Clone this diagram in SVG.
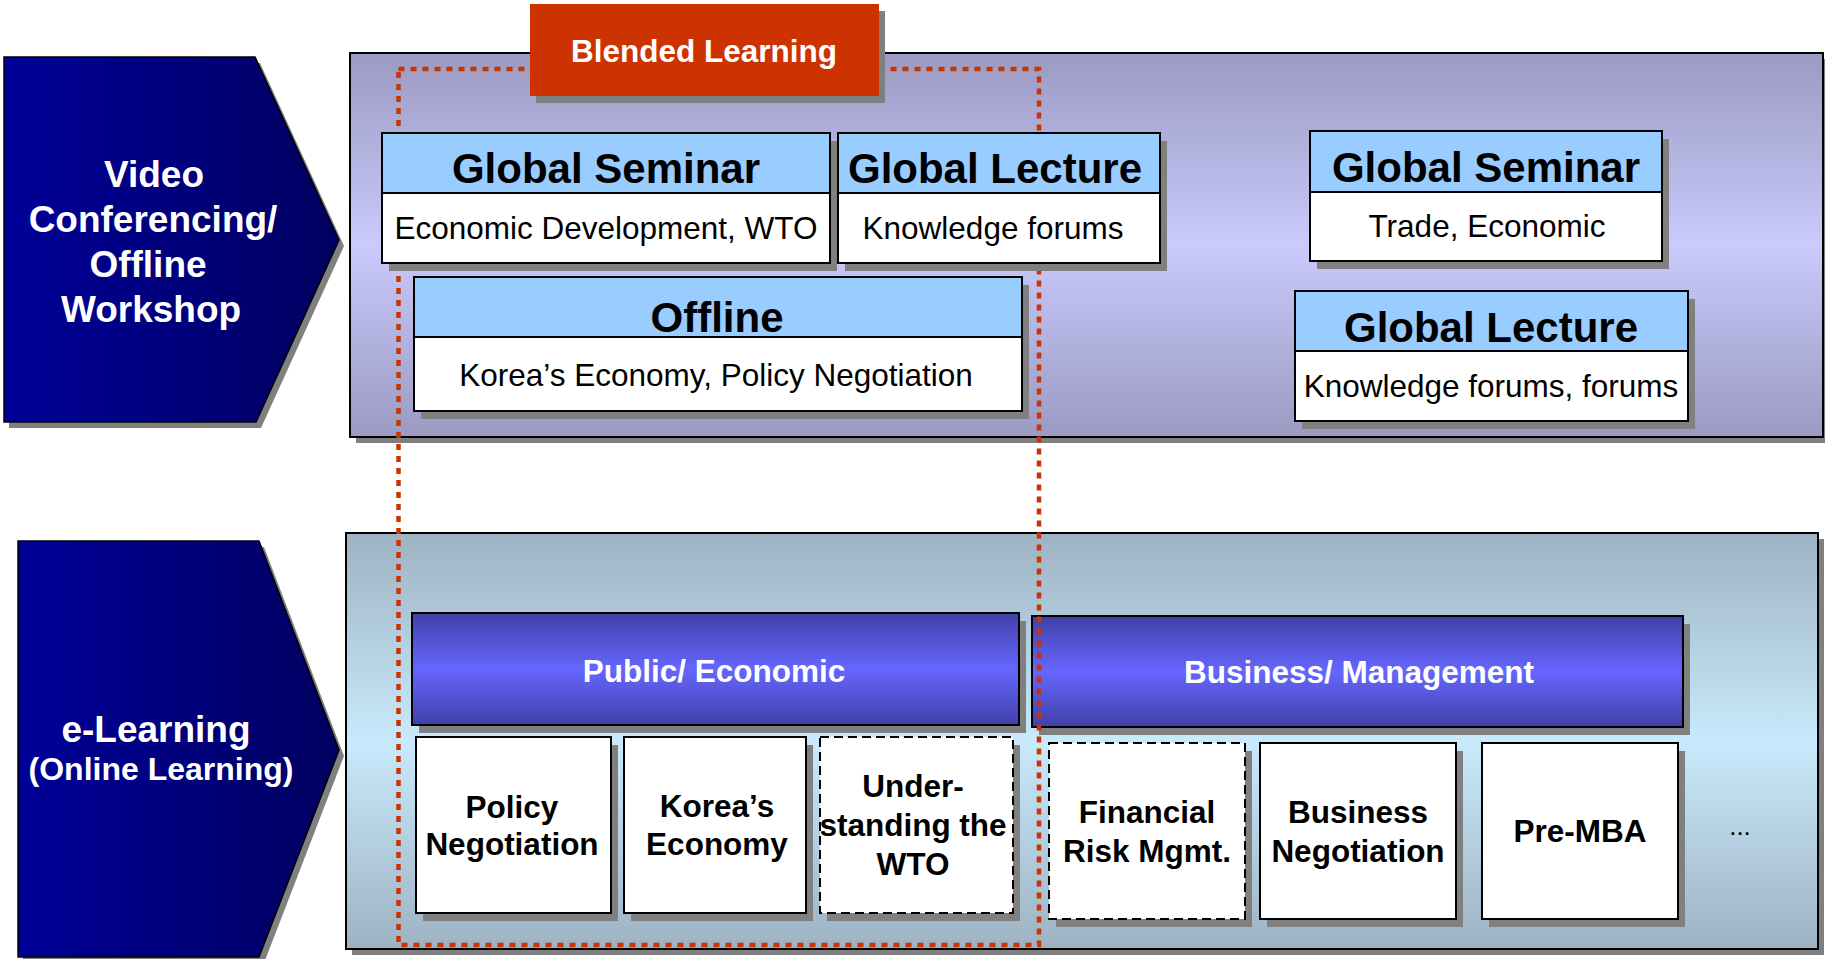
<svg xmlns="http://www.w3.org/2000/svg" width="1825" height="959" viewBox="0 0 1825 959">
<defs>
<linearGradient id="chev" x1="0" y1="0" x2="1" y2="0"><stop offset="0" stop-color="#000099"/><stop offset="1" stop-color="#000060"/></linearGradient>
<linearGradient id="topPanel" x1="0" y1="0" x2="0" y2="1"><stop offset="0" stop-color="#9A9AC2"/><stop offset="0.5" stop-color="#CACAFC"/><stop offset="1" stop-color="#9A9AC2"/></linearGradient>
<linearGradient id="botPanel" x1="0" y1="0" x2="0" y2="1"><stop offset="0" stop-color="#9EB2C2"/><stop offset="0.5" stop-color="#C8EAFC"/><stop offset="1" stop-color="#9EB2C2"/></linearGradient>
<linearGradient id="bar" x1="0" y1="0" x2="0" y2="1"><stop offset="0" stop-color="#4040A8"/><stop offset="0.5" stop-color="#6666FF"/><stop offset="1" stop-color="#4040A8"/></linearGradient>
</defs>
<style>
.sh{fill:#808080}
.pnl{stroke:#000;stroke-width:2}
.box{fill:#fff;stroke:#000;stroke-width:2}
.dash{fill:#fff;stroke:#000;stroke-width:2;stroke-dasharray:9 5}
.hdr{fill:#99CCFF;stroke:#000;stroke-width:2}
.barr{fill:url(#bar);stroke:#000;stroke-width:2}
.chv{fill:url(#chev);stroke:#000;stroke-width:1.5}
text{font-family:"Liberation Sans",Arial,sans-serif;text-anchor:middle}
.ht{font-size:42px;font-weight:bold;fill:#000}
.bt{font-size:31.5px;fill:#000}
.ct{font-size:37px;font-weight:bold;fill:#fff}
.wt{font-size:31.5px;font-weight:bold;fill:#fff}
.kt{font-size:31.5px;font-weight:bold;fill:#000}
.frame{fill:none;stroke:#CC3300;stroke-width:4.5;stroke-dasharray:6 6}
</style>

<g id="chevron-video">
<path class="sh" d="M9,63 L260,63 L344,246 L261,428 L9,428 Z"/>
<path class="chv" d="M4,57 L255,57 L339,240 L256,422 L4,422 Z"/>
<text class="ct" x="154" y="187">Video</text>
<text class="ct" x="153" y="232">Conferencing/</text>
<text class="ct" x="148" y="277">Offline</text>
<text class="ct" x="151" y="322">Workshop</text>
</g>

<g id="chevron-elearning">
<path class="sh" d="M23,547 L264,547 L344,756 L264,963 L23,963 Z"/>
<path class="chv" d="M18,541 L259,541 L339,750 L259,957 L18,957 Z"/>
<text class="ct" x="156" y="742">e-Learning</text>
<text class="wt" x="161" y="780" style="font-size:32px">(Online Learning)</text>
</g>

<g id="panel-top">
<rect class="sh" x="356" y="59" width="1473" height="384"/>
<rect class="pnl" x="350" y="53" width="1473" height="384" fill="url(#topPanel)"/>
</g>

<g id="panel-bottom">
<rect class="sh" x="352" y="539" width="1472" height="416"/>
<rect class="pnl" x="346" y="533" width="1472" height="416" fill="url(#botPanel)"/>
</g>

<g id="bar-business">
<rect class="sh" x="1039" y="624" width="651" height="111"/>
<rect class="barr" x="1032" y="616" width="651" height="111"/>
<text class="wt" x="1359" y="683">Business/ Management</text>
</g>

<g id="connectors">
<rect id="blended-frame" class="frame" x="398.5" y="69" width="640.5" height="876"/>
</g>

<g id="bar-public">
<rect class="sh" x="419" y="621" width="607" height="112"/>
<rect class="barr" x="412" y="613" width="607" height="112"/>
<text class="wt" x="714" y="682">Public/ Economic</text>
</g>

<g id="box-policy">
<rect class="sh" x="423" y="745" width="195" height="176"/>
<rect class="box" x="416" y="737" width="195" height="176"/>
<text class="kt" x="512" y="818">Policy</text>
<text class="kt" x="512" y="855">Negotiation</text>
</g>

<g id="box-korea">
<rect class="sh" x="631" y="745" width="182" height="176"/>
<rect class="box" x="624" y="737" width="182" height="176"/>
<text class="kt" x="717" y="817">Korea’s</text>
<text class="kt" x="717" y="855">Economy</text>
</g>

<g id="box-wto">
<rect class="sh" x="827" y="745" width="193" height="176"/>
<rect class="dash" x="820" y="737" width="193" height="176"/>
<text class="kt" x="913" y="797">Under-</text>
<text class="kt" x="913" y="836">standing the</text>
<text class="kt" x="913" y="875">WTO</text>
</g>

<g id="box-financial">
<rect class="sh" x="1056" y="751" width="196" height="176"/>
<rect class="dash" x="1049" y="743" width="196" height="176"/>
<text class="kt" x="1147" y="823">Financial</text>
<text class="kt" x="1147" y="862">Risk Mgmt.</text>
</g>

<g id="box-bizneg">
<rect class="sh" x="1267" y="751" width="196" height="176"/>
<rect class="box" x="1260" y="743" width="196" height="176"/>
<text class="kt" x="1358" y="823">Business</text>
<text class="kt" x="1358" y="862">Negotiation</text>
</g>

<g id="box-premba">
<rect class="sh" x="1489" y="751" width="196" height="176"/>
<rect class="box" x="1482" y="743" width="196" height="176"/>
<text class="kt" x="1580" y="842">Pre-MBA</text>
</g>

<g id="ellipsis">
<text x="1740" y="835" style="font-size:26px;fill:#000">...</text>
</g>

<g id="blended-learning">
<rect class="sh" x="536" y="11" width="349" height="92"/>
<rect x="530" y="4" width="349" height="92" fill="#CC3300"/>
<text class="wt" x="704" y="62">Blended Learning</text>
</g>

<g id="global-seminar-1">
<rect class="sh" x="389" y="141" width="448" height="130"/>
<rect class="box" x="382" y="193" width="448" height="70"/>
<rect class="hdr" x="382" y="133" width="448" height="60"/>
<text class="ht" x="606" y="183">Global Seminar</text>
<text class="bt" x="606" y="239">Economic Development, WTO</text>
</g>

<g id="global-lecture-1">
<rect class="sh" x="845" y="141" width="322" height="130"/>
<rect class="box" x="838" y="193" width="322" height="70"/>
<rect class="hdr" x="838" y="133" width="322" height="60"/>
<text class="ht" x="995" y="183">Global Lecture</text>
<text class="bt" x="993" y="239">Knowledge forums</text>
</g>

<g id="offline">
<rect class="sh" x="421" y="285" width="608" height="134"/>
<rect class="box" x="414" y="337" width="608" height="74"/>
<rect class="hdr" x="414" y="277" width="608" height="60"/>
<text class="ht" x="717" y="332">Offline</text>
<text class="bt" x="716" y="386">Korea’s Economy, Policy Negotiation</text>
</g>

<g id="global-seminar-2">
<rect class="sh" x="1317" y="139" width="352" height="130"/>
<rect class="box" x="1310" y="192" width="352" height="69"/>
<rect class="hdr" x="1310" y="131" width="352" height="61"/>
<text class="ht" x="1486" y="182">Global Seminar</text>
<text class="bt" x="1487" y="237">Trade, Economic</text>
</g>

<g id="global-lecture-2">
<rect class="sh" x="1302" y="299" width="393" height="130"/>
<rect class="box" x="1295" y="351" width="393" height="70"/>
<rect class="hdr" x="1295" y="291" width="393" height="60"/>
<text class="ht" x="1491" y="342">Global Lecture</text>
<text class="bt" x="1491" y="397">Knowledge forums, forums</text>
</g>
</svg>
